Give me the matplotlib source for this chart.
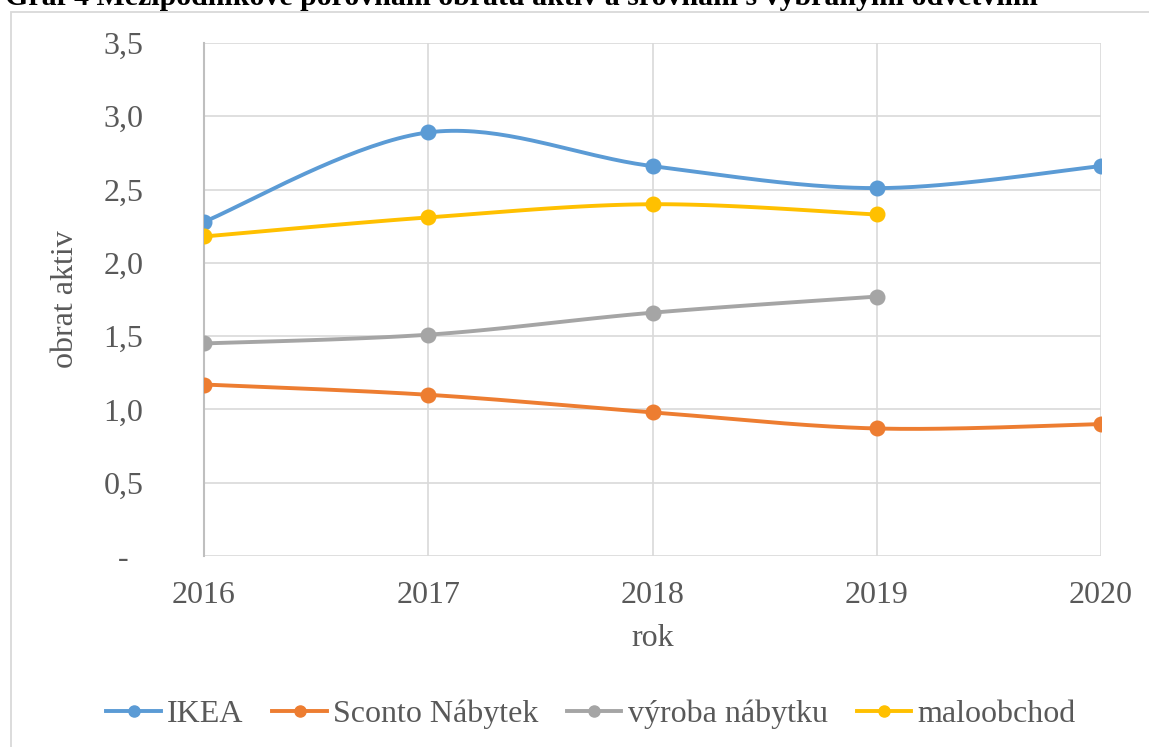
import numpy as np
import matplotlib
matplotlib.use("Agg")
from matplotlib import pyplot as plt
from matplotlib.lines import Line2D
from matplotlib.patches import Rectangle

# DATA
years = [2016, 2017, 2018, 2019, 2020]
ikea = [2.28, 2.89, 2.66, 2.51, 2.66]
sconto = [1.17, 1.10, 0.98, 0.87, 0.90]
vyroba = [1.45, 1.51, 1.66, 1.77]
maloobchod = [2.18, 2.31, 2.40, 2.33]

series_names = ["IKEA", "Sconto Nábytek", "výroba nábytku", "maloobchod"]
series_values = [ikea, sconto, vyroba, maloobchod]
colors = ["#5B9BD5", "#ED7D31", "#A5A5A5", "#FFC000"]

y_ticks = [0, 0.5, 1.0, 1.5, 2.0, 2.5, 3.0, 3.5]

TEXT = "#595959"
GRID = "#D9D9D9"
FONT = "Liberation Serif"


def smooth(xs, ys, steps=40):
    """excel-like smoothed line (catmull-rom as cubic bezier)"""
    p = np.column_stack([xs, ys]).astype(float)
    n = len(p)
    out = []
    for i in range(n - 1):
        p0 = p[max(i - 1, 0)]
        p1 = p[i]
        p2 = p[i + 1]
        p3 = p[min(i + 2, n - 1)]
        c1 = p1 + (p2 - p0) / 6
        c2 = p2 - (p3 - p1) / 6
        t = np.linspace(0, 1, steps)[:, None]
        seg = ((1 - t) ** 3) * p1 + 3 * ((1 - t) ** 2) * t * c1 + 3 * (1 - t) * t ** 2 * c2 + t ** 3 * p2
        out.append(seg if i == 0 else seg[1:])
    seg = np.vstack(out)
    return seg[:, 0], seg[:, 1]


def fmt_tick(v):
    if v == 0:
        return "-"
    return f"{v:.1f}".replace(".", ",")


def main():
    plt.rcParams["font.family"] = [FONT, "DejaVu Serif"]

    fig = plt.figure(figsize=(11.49, 7.47), dpi=100)
    W, H = 1149, 747

    # chart frame (cut at right and bottom)
    fig.patches.append(Rectangle((11 / W, -0.05), 1.2, 1 - 12 / H + 0.05,
                                 transform=fig.transFigure, fill=False,
                                 edgecolor=GRID, linewidth=1.3, zorder=0))

    # title, partly cut off at the top as in the source
    fig.text(5 / W, 1 - 5 / H, "Graf 4 Mezipodnikové porovnání obratu aktiv a srovnání s vybranými odvětvími",
             fontsize=21.5, fontweight="bold", color="black", ha="left", va="baseline",
             family=[FONT, "DejaVu Serif"])

    ax = fig.add_axes([204 / W, 1 - 556 / H, (1101 - 204) / W, (556 - 43) / H])

    for name, vals, col in zip(series_names, series_values, colors):
        xs = years[:len(vals)]
        sx, sy = smooth(xs, vals)
        ax.plot(sx, sy, color=col, linewidth=2.8, solid_capstyle="round", zorder=3)
        ax.plot(xs, vals, linestyle="none", marker="o", markersize=10.5, color=col, zorder=4)

    ax.set_xlim(years[0], years[-1])
    ax.set_ylim(0, 3.5)
    ax.set_xticks(years)
    ax.set_xticklabels([str(y) for y in years])
    ax.set_yticks(y_ticks)
    ax.set_yticklabels([fmt_tick(v) for v in y_ticks], ha="center")

    ax.grid(True, color=GRID, linewidth=1.2, zorder=0)
    ax.set_axisbelow(True)
    for side in ["top", "right", "bottom"]:
        ax.spines[side].set_visible(False)
    ax.spines["left"].set_color("#BFBFBF")
    ax.spines["left"].set_linewidth(1.5)

    ax.tick_params(axis="both", length=0, labelsize=23, labelcolor=TEXT)
    ax.tick_params(axis="y", pad=58)
    ax.tick_params(axis="x", pad=18)

    ax.set_xlabel("rok", fontsize=23, color=TEXT, labelpad=10)
    ax.set_ylabel("obrat aktiv", fontsize=23, color=TEXT)
    ax.yaxis.set_label_coords(-(204 - 80) / (1101 - 204), 0.5)

    handles = [Line2D([], [], color=c, linewidth=2.8, marker="o", markersize=8) for c in colors]
    leg = fig.legend(handles, series_names, loc="center", bbox_to_anchor=(591 / W, 1 - 714 / H),
                     ncol=4, frameon=False, fontsize=23, handlelength=1.7, handletextpad=0.2,
                     columnspacing=0.9)
    for t in leg.get_texts():
        t.set_color(TEXT)

    fig.savefig("out.png", dpi=100)


if __name__ == '__main__':
    main()
